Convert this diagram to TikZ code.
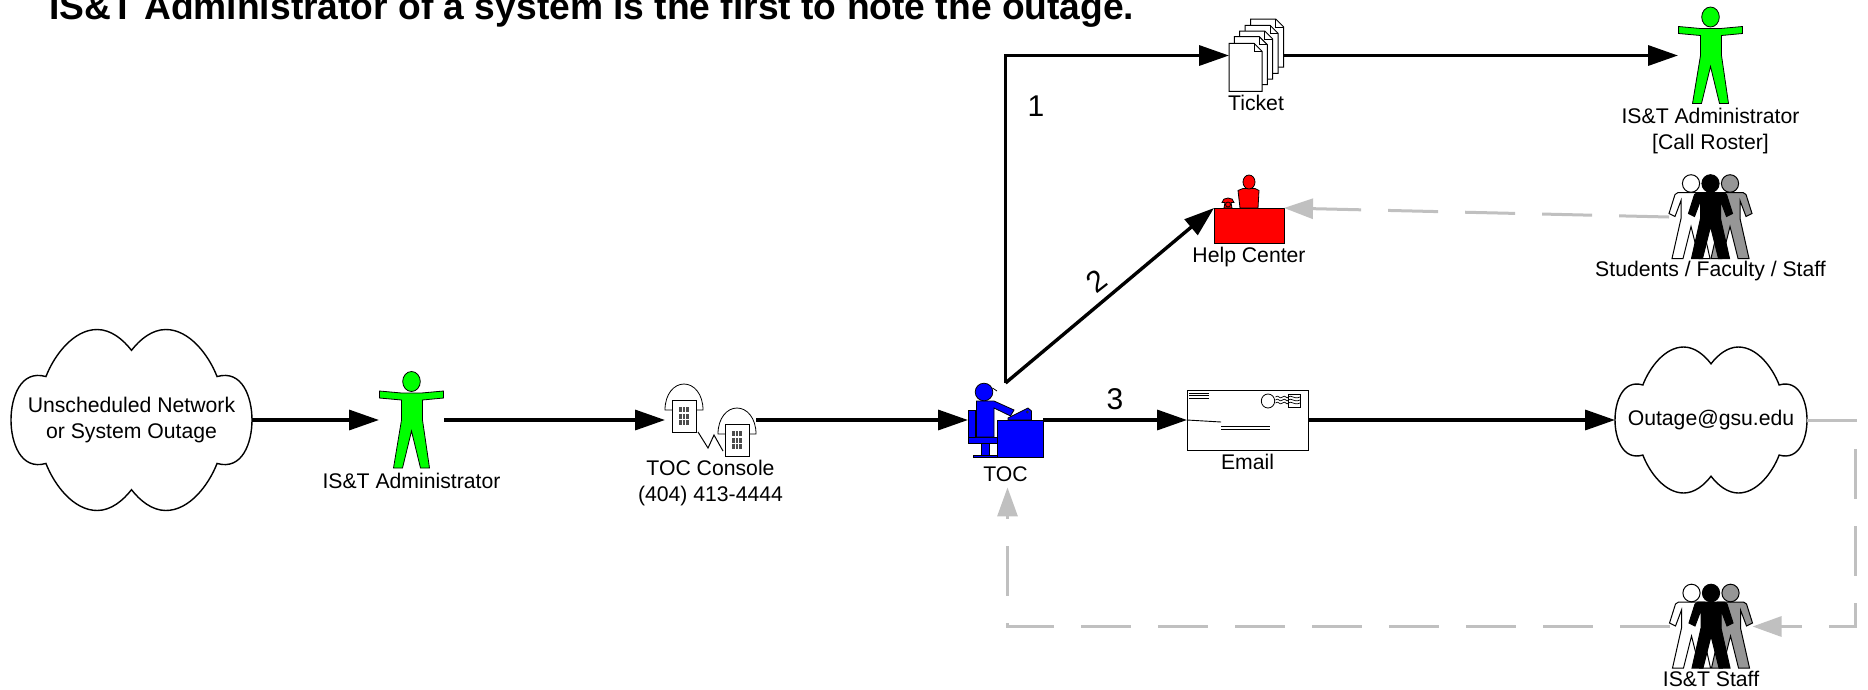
\documentclass[tikz,border=0pt]{standalone}
\usepackage{fontspec}
\setmainfont{Liberation Sans}
\usepackage{xcolor}
\usetikzlibrary{positioning, arrows.meta}
\definecolor{linegray}{HTML}{C0C0C0}
\definecolor{figgray}{HTML}{969696}

\begin{document}
\begin{tikzpicture}[
    x=1pt, y=-1pt,
    spot/.style={rectangle, inner sep=0pt, outer sep=0pt},
    lbl/.style={inner sep=0pt, align=center, anchor=north, font=\fontsize{21.2}{26}\selectfont},
    num/.style={inner sep=0pt, font=\fontsize{30}{32}\selectfont},
    arrow/.style={-{Triangle[length=30pt, width=20pt]}, line width=3.4pt},
    back/.style={-{Triangle[length=29pt, width=20pt]}, line width=3pt, draw=linegray, dash pattern=on 50pt off 27pt},
    key/.style={line width=5pt, dash pattern=on 2.6pt off 0.9pt, draw=black!70},
    personicon/.pic={
        \draw[fill=green, line width=0.8pt] (-32,-29) -- (-10,-27) -- (10,-27) -- (32,-29) -- (32,-22) -- (11,-20)
            -- (11,0) -- (18,48) -- (9,48) -- (0,11) -- (-9,48) -- (-18,48) -- (-10,0) -- (-10,-20) -- (-32,-22) -- cycle;
        \draw[fill=green, line width=0.8pt] (0,-38.5) circle [x radius=8.8, y radius=10];
    },
    figureicon/.pic={
        \draw[line width=1pt, pic actions] (-13,9) -- (13,9) -- (16,11) -- (22,30) -- (16,33) -- (10,17) -- (10,35)
            -- (19,75) -- (8,75) -- (0,43) -- (-8,75) -- (-19,75) -- (-10,35) -- (-10,17) -- (-16,33) -- (-22,30) -- (-16,11) -- cycle;
        \draw[line width=1pt, pic actions] (0,0) circle [x radius=8.6, y radius=8.8];
    },
    groupicon/.pic={
        \pic[fill=white] at (-19.5,-33.5) {figureicon};
        \pic[fill=figgray] at (19.5,-33.5) {figureicon};
        \pic[fill=black] at (0,-33.5) {figureicon};
    },
    cloudicon/.pic={
        \draw[line width=1.4pt] (0,-0.77) .. controls (-0.07,-0.89) and (-0.17,-1) .. (-0.285,-1)
            .. controls (-0.48,-1) and (-0.64,-0.72) .. (-0.71,-0.48)
            .. controls (-0.92,-0.56) and (-1,-0.25) .. (-1,0)
            .. controls (-1,0.25) and (-0.92,0.56) .. (-0.71,0.48)
            .. controls (-0.64,0.72) and (-0.48,1) .. (-0.285,1)
            .. controls (-0.17,1) and (-0.07,0.89) .. (0,0.77)
            .. controls (0.07,0.89) and (0.17,1) .. (0.285,1)
            .. controls (0.48,1) and (0.64,0.72) .. (0.71,0.48)
            .. controls (0.92,0.56) and (1,0.25) .. (1,0)
            .. controls (1,-0.25) and (0.92,-0.56) .. (0.71,-0.48)
            .. controls (0.64,-0.72) and (0.48,-1) .. (0.285,-1)
            .. controls (0.17,-1) and (0.07,-0.89) .. (0,-0.77) -- cycle;
    },
    phoneicon/.pic={
        \draw[line width=0.8pt] (-12,10) -- (-19,10) .. controls (-19,-6) and (-10,-16) .. (0,-16)
            .. controls (10,-16) and (19,-6) .. (19,10) -- (12,10);
        \draw[line width=1pt, fill=white] (-12,0) rectangle (12,32);
        \draw[key] (-5,9.5) -- (5,9.5);
        \draw[key] (-5,16) -- (5,16);
        \draw[key] (-5,22.5) -- (5,22.5);
    },
    pageicon/.pic={
        \draw[fill=white, line width=1pt] (0,0) -- (25,0) -- (33,8) -- (33,48) -- (0,48) -- cycle;
        \draw[line width=1pt] (25,0) -- (25,8) -- (33,8);
    }
]
\useasboundingbox (0,0) rectangle (1868,689);

\node[lbl, anchor=base west, font=\fontsize{37.2}{40}\selectfont\bfseries] (title) at (49,19)
    {IS\&T Administrator of a system is the first to note the outage.};

% main row
\node[spot, lbl, anchor=center, minimum width=241pt, minimum height=181pt] (outage) at (131.5,420) {Unscheduled Network\\or System Outage};
\node[spot, minimum width=65pt, minimum height=97pt, right=127pt of outage] (admin) {};
\node[spot, minimum width=91pt, minimum height=72pt, right=221pt of admin] (console) {};
\node[spot, minimum width=75pt, minimum height=74pt, right=212pt of console] (toc) {};
\node[spot, draw, line width=1pt, minimum width=121pt, minimum height=60pt, right=144pt of toc] (email) {};
\node[spot, lbl, anchor=center, minimum width=192pt, minimum height=146pt, right=307pt of email] (inbox) {Outage@gsu.edu};

% upper and lower branches
\node[spot, minimum width=54pt, minimum height=73pt] (ticket) at (1256,55.5) {};
\node[spot, minimum width=65pt, minimum height=97pt, right=395pt of ticket] (roster) {};
\node[spot, draw, fill=red, line width=1pt, minimum width=70pt, minimum height=35pt, below=116pt of ticket, xshift=-7pt] (helpdesk) {};
\node[spot, minimum width=83pt, minimum height=83pt, below=71.5pt of roster] (users) {};
\node[spot, minimum width=83pt, minimum height=83pt, below=92pt of inbox] (staff) {};

% icons
\pic[xscale=120.5, yscale=90.5] at (outage) {cloudicon};
\pic[xscale=96, yscale=73] at (inbox) {cloudicon};
\pic at (admin) {personicon};
\pic at (roster) {personicon};
\pic at (users) {groupicon};
\pic at (staff) {groupicon};
\begin{scope}[shift={(console)}]
\pic at (-26.5,-20) {phoneicon};
\pic at (26.5,4) {phoneicon};
\draw[line width=1pt] (-12.5,12) -- (-2.5,28) -- (3.5,15) -- (12.5,31);
\end{scope}
\begin{scope}[shift={(toc)}]
\draw[fill=blue, line width=0.8pt] (-37.5,-10) rectangle (-30.5,17);
\draw[fill=blue, line width=0.8pt] (-37.5,17) rectangle (-8.5,23);
\draw[fill=blue, line width=0.8pt] (-24.5,23) rectangle (-16.5,35);
\draw[fill=blue, line width=0.8pt] (-32.5,35) rectangle (-8.5,37);
\draw[fill=blue, line width=0.8pt] (-29,-19) -- (-11.5,-19) -- (8.5,-10) -- (5,-4) -- (-11.5,-12) -- (-11.5,17) -- (-29,17) -- cycle;
\draw[fill=blue, line width=0.8pt] (-21.5,-28) circle [radius=8.8];
\draw[line width=0.8pt] (-13,-32) -- (-8.5,-29);
\draw[fill=blue, line width=0.8pt] (2.5,-2) -- (22.5,-12) -- (26,-9) -- (26,0) -- (2.5,0) -- cycle;
\draw[fill=white] (22,-8) circle [radius=1];
\draw[fill=blue, line width=0.8pt] (-8.5,0) rectangle (37.5,37);
\end{scope}
\begin{scope}[shift={(email)}]
\draw[line width=0.9pt] (-58.5,-27) -- (-38.5,-27);
\draw[line width=0.9pt] (-58.5,-24.5) -- (-38.5,-24.5);
\draw[line width=0.9pt] (-58.5,-22) -- (-38.5,-22);
\draw[line width=0.8pt] (20.5,-19) circle [x radius=6.7, y radius=7];
\draw[line width=0.8pt] (41,-26) rectangle (52.5,-13);
\draw[line width=0.7pt] (28,-23) .. controls (31,-26) and (32,-20) .. (35,-23) .. controls (38,-26) and (39,-20) .. (41,-23)
    .. controls (44,-26) and (46,-20) .. (52.5,-23);
\draw[line width=0.7pt] (28,-20) .. controls (31,-23) and (32,-17) .. (35,-20) .. controls (38,-23) and (39,-17) .. (41,-20)
    .. controls (44,-23) and (46,-17) .. (52.5,-20);
\draw[line width=0.7pt] (28,-17) .. controls (31,-20) and (32,-14) .. (35,-17) .. controls (38,-20) and (39,-14) .. (41,-17)
    .. controls (44,-20) and (46,-14) .. (52.5,-17);
\draw[line width=0.9pt] (-60.5,0) -- (-26.5,2);
\draw[line width=0.9pt] (-26.5,6) -- (22.5,6);
\draw[line width=0.9pt] (-26.5,9) -- (22.5,9);
\end{scope}
\begin{scope}[shift={(ticket)}]
\pic at (-5.3,-36.5) {pageicon};
\pic at (-11,-30.2) {pageicon};
\pic at (-16.3,-24.5) {pageicon};
\pic at (-21.7,-18.8) {pageicon};
\pic at (-27,-12.2) {pageicon};
\end{scope}
\begin{scope}[shift={(helpdesk)}]
\draw[fill=red, line width=0.8pt] (-11,-35) -- (-6,-37) -- (6,-37) -- (10,-35) -- (9,-17.5) -- (-9,-17.5) -- cycle;
\draw[fill=red, line width=0.8pt] (0,-43.5) circle [x radius=6, y radius=7];
\draw[fill=red, line width=0.8pt] (-27,-23) .. controls (-27,-29) and (-15,-29) .. (-15,-23) -- (-18,-23) -- (-17,-17.5) -- (-25,-17.5) -- (-24,-23) -- cycle;
\draw[line width=0.8pt] (-21,-21) circle [radius=2.5];
\end{scope}

% labels
\node[lbl, below=4pt of admin] (adminlbl) {IS\&T Administrator};
\node[lbl, below=4pt of console] (consolelbl) {TOC Console\\(404) 413-4444};
\node[lbl, below=9pt of toc] (toclbl) {TOC};
\node[lbl, below=4pt of email] (emaillbl) {Email};
\node[lbl, below=3pt of ticket] (ticketlbl) {Ticket};
\node[lbl, below=4pt of roster] (rosterlbl) {IS\&T Administrator\\{[}Call Roster{]}};
\node[lbl, below=4pt of helpdesk] (helpdesklbl) {Help Center};
\node[lbl, below=2pt of users] (userslbl) {Students / Faculty / Staff};
\node[lbl, below=3pt of staff] (stafflbl) {IS\&T Staff};

\node[num] (stepa) at (1036,106) {1};
\node[num, rotate=38] (stepb) at (1097,281) {2};
\node[num] (stepc) at (1115,399) {3};

% connectors
\draw[arrow] (outage) -- (admin);
\draw[arrow] (admin) -- (console);
\draw[arrow] (console) -- (toc);
\draw[arrow] (toc) -- (email);
\draw[arrow] (email) -- (inbox);
\draw[arrow] (toc.north) |- (ticket.west);
\draw[arrow] (ticket) -- (roster);
\draw[arrow] (toc.north) -- (helpdesk.north west);
\draw[back] (users.west) -- (helpdesk.north east);
\coordinate (turn) at (1855,420);
\draw[back] (inbox.east) -- (turn) |- (staff.east);
\draw[back, shorten >=6pt] (staff.west) -| ([xshift=2pt]toclbl.south);
\end{tikzpicture}
\end{document}
